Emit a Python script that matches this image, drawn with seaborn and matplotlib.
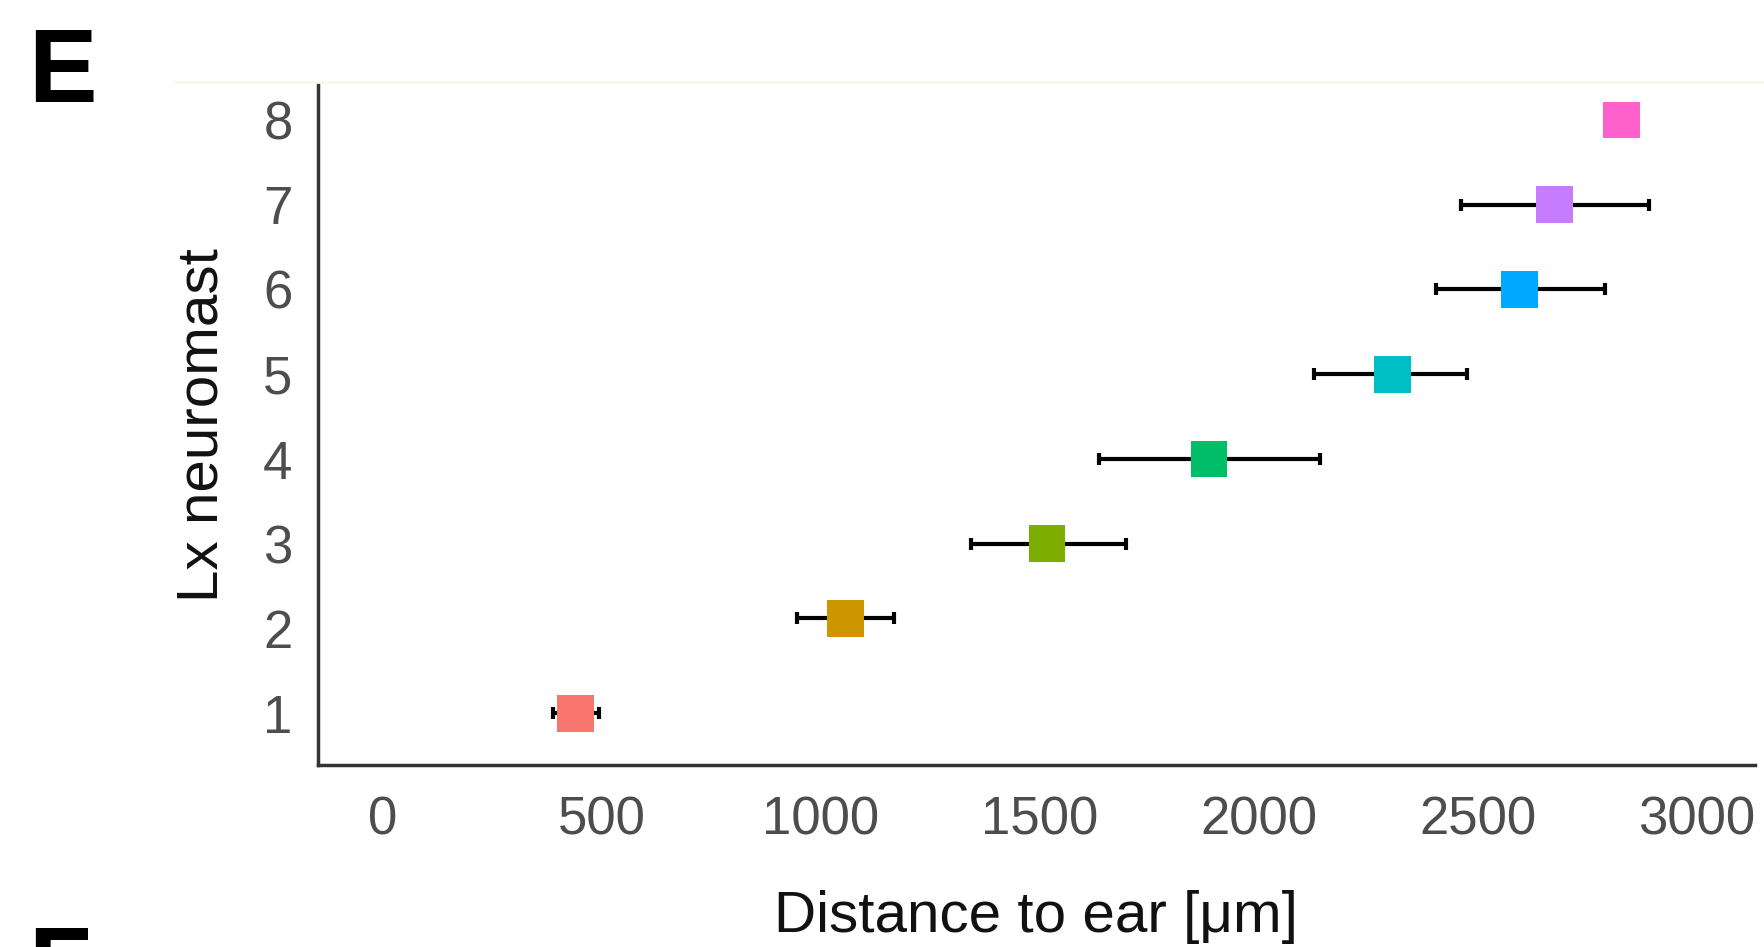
import numpy as np
import pandas as pd
import matplotlib
matplotlib.use("Agg")
import matplotlib.pyplot as plt
import seaborn as sns
from matplotlib.lines import Line2D

# ── Data ────────────────────────────────────────────────────────────────────
neuromast = ["1", "2", "3", "4", "5", "6", "7", "8"]
y_pos = [1, 2.12, 3, 4, 5, 6, 7, 8]
distance = [440, 1057, 1517, 1887, 2306, 2596, 2676, 2828]
err_low = [388, 946, 1344, 1635, 2126, 2404, 2463, 2828]
err_high = [494, 1167, 1697, 2141, 2476, 2792, 2892, 2828]
palette = ["#F8766D", "#CD9600", "#7CAE00", "#00BE67",
           "#00BFC4", "#00A9FF", "#C77CFF", "#FF61CC"]
x_ticks = [0, 500, 1000, 1500, 2000, 2500, 3000]
y_ticks = [1, 2, 3, 4, 5, 6, 7, 8]

df = pd.DataFrame({"neuromast": neuromast, "y": y_pos, "dist": distance,
                   "lo": err_low, "hi": err_high})

# ── Styling ────────────────────────────────────────────────────────────────
sns.set_theme(style="white")
plt.rcParams["font.family"] = ["Liberation Sans", "DejaVu Sans"]

fig = plt.figure(figsize=(17.64, 9.47), dpi=100)
ax = fig.add_axes([0.180, 0.192, 0.815, 0.719])

# error bars (drawn under markers)
has_err = df["hi"] > df["lo"]
sub = df[has_err]
ax.errorbar(sub["dist"], sub["y"],
            xerr=[sub["dist"] - sub["lo"], sub["hi"] - sub["dist"]],
            fmt="none", ecolor="black", elinewidth=3, capsize=4, capthick=3,
            zorder=2)

sns.scatterplot(data=df, x="dist", y="y", hue="neuromast", palette=palette,
                marker="s", s=700, linewidth=0, legend=False, ax=ax, zorder=3)

ax.set_xlim(-149, 3134)
ax.set_ylim(0.39, 8.42)
ax.set_xticks(x_ticks)
ax.set_xticklabels([str(t) for t in x_ticks])
ax.set_yticks(y_ticks)
ax.set_yticklabels([str(t) for t in y_ticks])

ax.set_xlabel("Distance to ear [μm]", fontsize=42, color="#111111", labelpad=32)
ax.set_ylabel("Lx neuromast", fontsize=42, color="#111111", labelpad=24)

for side in ["top", "right"]:
    ax.spines[side].set_visible(False)
for side in ["left", "bottom"]:
    ax.spines[side].set_color("#333333")
    ax.spines[side].set_linewidth(2.5)

ax.tick_params(axis="both", which="major", labelsize=38, colors="#4D4D4D",
               length=8, width=1.8, direction="out")
ax.tick_params(axis="x", pad=14)
ax.tick_params(axis="y", pad=10)
ax.grid(False)

# faint panel boundary line at top
fig.add_artist(Line2D([0.099, 1.0], [0.913, 0.913], color="#FBF7EC",
                      linewidth=2, transform=fig.transFigure))

# panel letters
fig.text(0.016, 0.972, "E", fontsize=74, fontweight="bold", color="black",
         va="top", ha="left")
fig.text(0.016, 0.024, "F", fontsize=74, fontweight="bold", color="black",
         va="top", ha="left")

plt.savefig("out.png", dpi=100)
